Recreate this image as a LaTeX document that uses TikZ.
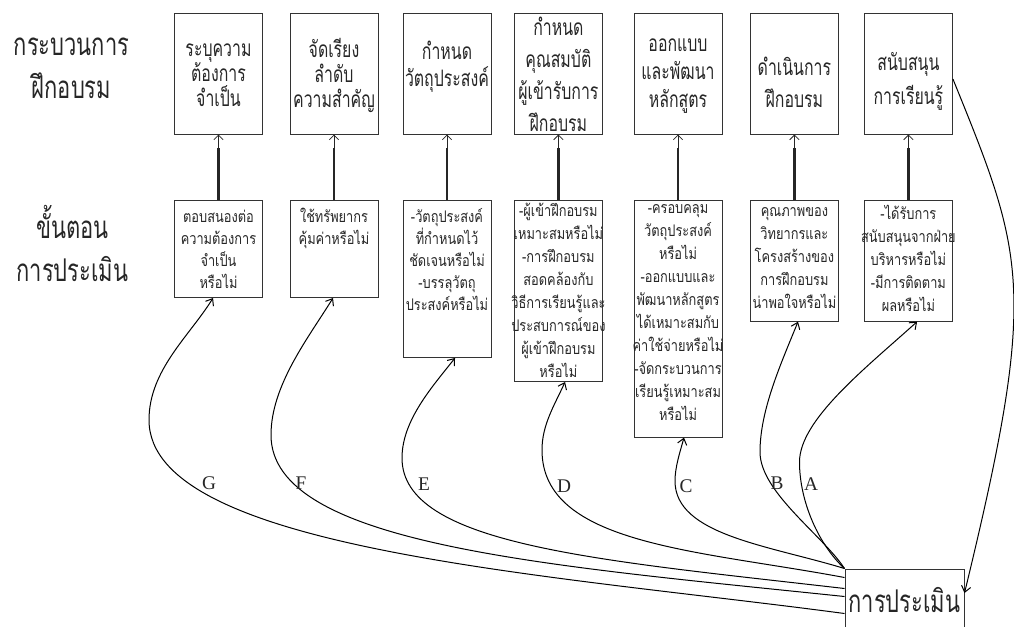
\documentclass[tikz,border=0pt]{standalone}
\usepackage{fontspec}
\setmainfont{Liberation Serif}
\newfontfamily\thai[Script=Thai,FakeStretch=0.8]{Loma}
\newfontfamily\thainarrow[Script=Thai,FakeStretch=0.7]{Loma}
\usetikzlibrary{arrows.meta}

\begin{document}
\begin{tikzpicture}[x=0.75pt,y=-0.75pt,
  stagebox/.style={draw=black!80,line width=0.75pt,inner sep=0pt,minimum width=66pt,minimum height=90.4pt},
  checkbox/.style={draw=black!80,line width=0.75pt,inner sep=0pt,minimum width=66pt,anchor=north,minimum height=#1},
  stagetext/.style={font=\thainarrow\fontsize{17}{#1}\selectfont,align=center,inner sep=0pt,text=black!85},
  checktext/.style={font=\thai\fontsize{12}{#1}\selectfont,align=center,inner sep=0pt,text=black!85},
  sidetext/.style={font=\thainarrow\fontsize{23.5}{32.25}\selectfont,align=center,inner sep=0pt,text=black!85},
  letter/.style={font=\fontsize{14.5}{16}\selectfont,inner sep=0pt,text=black!85},
  shaft/.style={line width=1.9pt,draw=black!85},
  tipline/.style={line width=0.6pt,draw=black!85,-{Straight Barb[length=3.5pt,width=7pt]}},
  link/.style={line width=0.75pt,draw=black,-{Straight Barb[length=4.5pt,width=7pt]}}
]
\useasboundingbox (0,0) rectangle (1014,626);
\clip (0,0) rectangle (1014,626);

% side headings
\node[sidetext] (h1) at (71.5,68) {กระบวนการ\\ฝึกอบรม};
\node[sidetext] (h2) at (72.5,243.5) {ขั้นตอน\\การประเมิน};

% training process stages
\node[stagebox] (p1) at (218.5,73.75) {};
\node[stagebox] (p2) at (334,73.75) {};
\node[stagebox] (p3) at (447,73.75) {};
\node[stagebox] (p4) at (558.4,73.75) {};
\node[stagebox] (p5) at (678,73.75) {};
\node[stagebox] (p6) at (794.4,73.75) {};
\node[stagebox] (p7) at (908.4,73.75) {};

\node[stagetext=18.75] (pt1) at (218.5,75) {ระบุความ\\ต้องการ\\จำเป็น};
\node[stagetext=18.75] (pt2) at (334,75) {จัดเรียง\\ลำดับ\\ความสำคัญ};
\node[stagetext=20.25] (pt3) at (447,66.5) {กำหนด\\วัตถุประสงค์};
\node[stagetext=24] (pt4) at (558.4,74.5) {กำหนด\\คุณสมบัติ\\ผู้เข้ารับการ\\ฝึกอบรม};
\node[stagetext=21] (pt5) at (678,76) {ออกแบบ\\และพัฒนา\\หลักสูตร};
\node[stagetext=24] (pt6) at (794.4,82.5) {ดำเนินการ\\ฝึกอบรม};
\node[stagetext=25.5] (pt7) at (908.4,81) {สนับสนุน\\การเรียนรู้};

% evaluation questions
\node[checkbox=73.1pt] (l1) at (218.5,199.5) {};
\node[checkbox=73.1pt] (l2) at (334,199.5) {};
\node[checkbox=118.1pt] (l3) at (447,199.5) {};
\node[checkbox=136.1pt] (l4) at (558.4,199.5) {};
\node[checkbox=177.8pt] (l5) at (678,199.5) {};
\node[checkbox=90.9pt] (l6) at (794.4,199.5) {};
\node[checkbox=90.9pt] (l7) at (908.4,199.5) {};

\node[checktext=16.5] (lt1) at (218.5,249.3) {ตอบสนองต่อ\\ความต้องการ\\จำเป็น\\หรือไม่};
\node[checktext=16.5] (lt2) at (334,227.9) {ใช้ทรัพยากร\\คุ้มค่าหรือไม่};
\node[checktext=16.5] (lt3) at (447,259.9) {-วัตถุประสงค์\\ที่กำหนดไว้\\ชัดเจนหรือไม่\\-บรรลุวัตถุ\\ประสงค์หรือไม่};
\node[checktext=17.25] (lt4) at (558.4,290.3) {-ผู้เข้าฝึกอบรม\\เหมาะสมหรือไม่\\-การฝึกอบรม\\สอดคล้องกับ\\วิธีการเรียนรู้และ\\ประสบการณ์ของ\\ผู้เข้าฝึกอบรม\\หรือไม่};
\node[checktext=17.25] (lt5) at (678,312.5) {-ครอบคลุม\\วัตถุประสงค์\\หรือไม่\\-ออกแบบและ\\พัฒนาหลักสูตร\\ได้เหมาะสมกับ\\ค่าใช้จ่ายหรือไม่\\-จัดกระบวนการ\\เรียนรู้เหมาะสม\\หรือไม่};
\node[checktext=17.25] (lt6) at (794.4,258.3) {คุณภาพของ\\วิทยากรและ\\โครงสร้างของ\\การฝึกอบรม\\น่าพอใจหรือไม่};
\node[checktext=17.25] (lt7) at (908.4,258.3) {-ได้รับการ\\สนับสนุนจากฝ่าย\\บริหารหรือไม่\\-มีการติดตาม\\ผลหรือไม่};

% question -> stage connectors
\foreach \i in {1,...,7}{
  \draw[shaft] (l\i.north) -- ([yshift=-9.75pt]p\i.south);
  \draw[tipline] ([yshift=-10.5pt]p\i.south) -- (p\i.south);
}

% evaluation box
\node[draw=black!80,line width=0.75pt,inner sep=0pt,minimum width=89.25pt,minimum height=46.5pt,
      font=\thainarrow\fontsize{23.5}{26}\selectfont,text=black!85] (ev) at (904.5,600) {การประเมิน};

% evaluation links
\draw[link] ([yshift=-33.75pt]ev.north west) .. controls (548,574) and (149,550) .. (149,420)
  .. controls (149,370) and (189.5,336) .. ([xshift=-4.1pt]l1.south);
\draw[link] ([yshift=-21pt]ev.north west) .. controls (547,565.5) and (271,545) .. (271,435)
  .. controls (271,385) and (309,337) .. ([xshift=-0.75pt]l2.south);
\draw[link] ([yshift=-15pt]ev.north west) .. controls (597,560) and (402,545) .. (402,458)
  .. controls (402,420) and (433,386) .. ([xshift=6pt]l3.south);
\draw[link] ([yshift=-6.75pt]ev.north west) .. controls (698,550) and (542,545) .. (542,450)
  .. controls (542,425) and (554,406) .. ([xshift=5pt]l4.south);
\draw[link] (ev.north west) .. controls (768.6,545.3) and (675,535) .. (675,481)
  .. controls (675,467) and (680,452) .. ([xshift=4.5pt]l5.south);
\draw[link] (ev.north west) .. controls (823,535.5) and (760,492) .. (760,452)
  .. controls (760,410) and (781,363.5) .. ([xshift=2.7pt]l6.south);
\draw[link] (ev.north west) .. controls (819,545) and (799.5,502) .. (799.5,462)
  .. controls (799.5,420) and (865,368.6) .. ([xshift=6.5pt]l7.south);
\draw[link] ([yshift=-3.9pt]p7.east) .. controls (1025,256.6) and (1038.5,288.5) .. ([yshift=5.25pt]ev.east);

% link letters
\node[letter] (lg) at (209,483) {G};
\node[letter] (lf) at (301,483) {F};
\node[letter] (le) at (424,484) {E};
\node[letter] (ld) at (564,486) {D};
\node[letter] (lc) at (686,486) {C};
\node[letter] (lb) at (777,483) {B};
\node[letter] (la) at (811,484) {A};
\end{tikzpicture}
\end{document}
